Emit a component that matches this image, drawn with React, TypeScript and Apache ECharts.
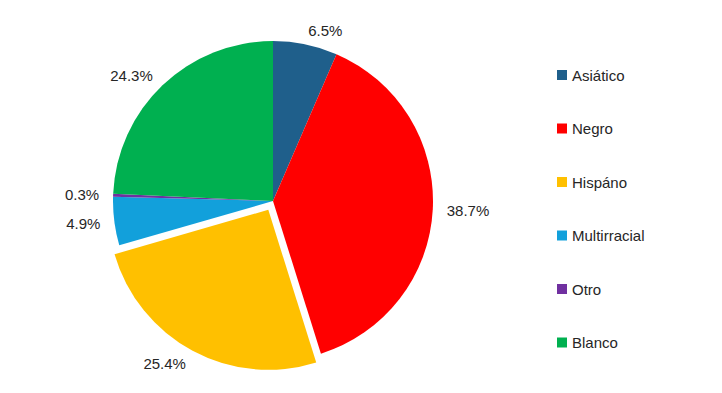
import React, { useEffect, useRef } from "react";
import * as echarts from "echarts";

const categories = ["Asiático", "Negro", "Hispáno", "Multirracial", "Otro", "Blanco"];
const values = [6.5, 38.7, 25.4, 4.9, 0.3, 24.3];
const colors = ["#1F5F8B", "#FF0000", "#FFC000", "#12A0DB", "#7030A0", "#00B050"];
const explodedCategory = "Hispáno";

export default function App() {
  const ref = useRef<HTMLDivElement>(null);
  useEffect(() => {
    if (!ref.current) return;
    const chart = echarts.init(ref.current, null, { renderer: "svg" });
    const font = "'Liberation Sans', Arial, sans-serif";
    chart.setOption({
      animation: false,
      backgroundColor: "#ffffff",
      legend: {
        orient: "vertical",
        left: 552,
        top: 62,
        icon: "rect",
        itemWidth: 10,
        itemHeight: 10,
        itemGap: 37.5,
        data: categories,
        textStyle: { fontFamily: font, fontSize: 15, color: "#262626", lineHeight: 16 },
      },
      series: [
        {
          type: "pie",
          center: [273, 201],
          radius: 160,
          startAngle: 90,
          clockwise: true,
          selectedMode: "single",
          selectedOffset: 10,
          avoidLabelOverlap: true,
          label: {
            show: true,
            position: "outside",
            formatter: "{c}%",
            fontFamily: font,
            fontSize: 15,
            color: "#262626",
            distanceToLabelLine: 0,
          },
          labelLine: { show: false, length: 14, length2: 0 },
          emphasis: { disabled: true },
          data: categories.map((name, i) => ({
            name,
            value: values[i],
            selected: name === explodedCategory,
            itemStyle: { color: colors[i] },
          })),
        },
      ],
    });
    return () => chart.dispose();
  }, []);
  return (
    <div
      ref={ref}
      style={{ position: "absolute", left: 0, top: 0, width: 722, height: 393 }}
    />
  );
}
